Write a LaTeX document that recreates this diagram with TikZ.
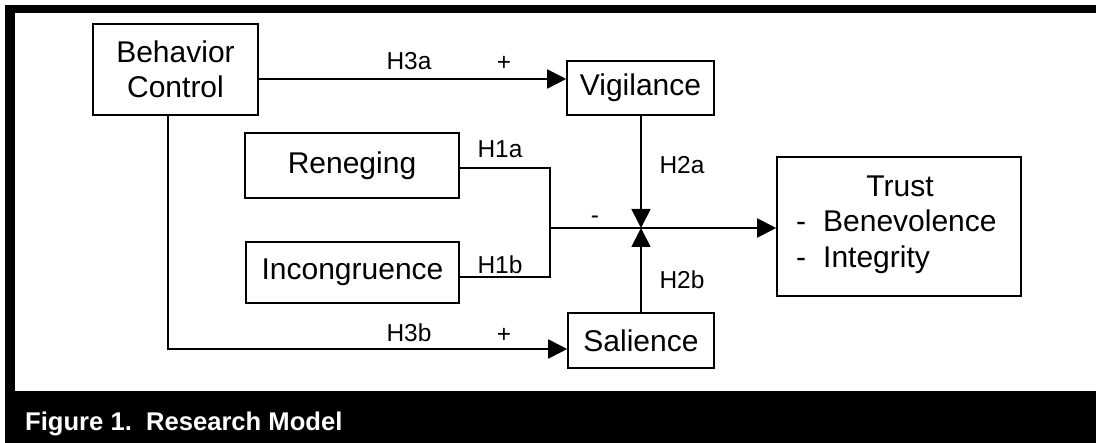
\documentclass[tikz,border=0pt]{standalone}
\usepackage{fontspec}
\setmainfont{Liberation Sans}
\usetikzlibrary{arrows.meta}
\tikzset{
  box/.style={draw, line width=1.6pt, rectangle, inner sep=0pt, font=\fontsize{30}{35}\selectfont, align=center},
  conn/.style={line width=1.8pt},
  arr/.style={conn, -{Triangle[length=19pt, width=19pt]}},
  lbl/.style={font=\fontsize{24.5}{28}\selectfont, inner sep=0pt},
  big/.style={font=\fontsize{30}{35}\selectfont, inner sep=0pt},
  band/.style={fill=black, draw=none}
}
\begin{document}
\begin{tikzpicture}[x=1pt, y=-1pt]
\useasboundingbox (0,0) rectangle (1096,443);
\fill[white] (0,0) rectangle (1096,443);
% frame bands
\fill[band] (5,5) rectangle (1096,13);
\fill[band] (5,5) rectangle (15,391);
\fill[band] (5,391) rectangle (1096,443);
\node[anchor=base west, text=white, font=\fontsize{25.6}{30}\selectfont\bfseries, inner sep=0pt] (cap) at (25,431) {Figure 1.\ \ Research Model};

% boxes
\node[box, minimum width=165pt, minimum height=91pt] (bc) at (175.5,69.5) {Behavior\\Control};
\node[box, minimum width=214pt, minimum height=65pt] (ren) at (352,165.5) {Reneging};
\node[box, minimum width=213pt, minimum height=61pt] (inc) at (352.5,272.5) {Incongruence};
\node[box, minimum width=147pt, minimum height=54pt] (vig) at (640.5,88) {Vigilance};
\node[box, minimum width=146pt, minimum height=55pt] (sal) at (641,340.5) {Salience};
\node[box, minimum width=244pt, minimum height=139pt] (trust) at (899,226.5) {};
\node[big, anchor=base] (tt) at (900,197) {Trust};
\node[big, anchor=base west] (tb) at (796,232) {-\hspace{17pt}Benevolence};
\node[big, anchor=base west] (ti) at (796,268) {-\hspace{17pt}Integrity};

% coordinates
\coordinate (y3a) at (0,79);
\coordinate (y3b) at (0,349);
\coordinate (bcx) at (168,115);
\coordinate (ra) at (550,168);
\coordinate (rb) at (550,277);
\coordinate (rm) at (550,228);
\coordinate (j) at (641,228);

% connectors
\draw[arr] (bc.east |- y3a) -- (vig.west |- y3a);
\draw[arr] (bcx) -- (bcx |- y3b) -- (sal.west |- y3b);
\draw[conn] (ren.east |- ra) -- (ra) -- (rb) -- (inc.east |- rb);
\draw[conn] (rm) -- (j);
\draw[arr] (j) -- (trust.west |- j);
\draw[arr] (vig.south -| j) -- (j);
\draw[arr] (sal.north -| j) -- (j);

% labels
\node[lbl, anchor=base] (l3a) at (409,70) {H3a};
\node[lbl] (p3a) at (504,63) {+};
\node[lbl, anchor=base] (l3b) at (409,342) {H3b};
\node[lbl] (p3b) at (504,335) {+};
\node[lbl, anchor=base] (l1a) at (500,158) {H1a};
\node[lbl, anchor=base] (l1b) at (500,274) {H1b};
\node[lbl, anchor=base] (l2a) at (682,174) {H2a};
\node[lbl, anchor=base] (l2b) at (682,289) {H2b};
\node[lbl] (neg) at (595,220) {-};
\end{tikzpicture}
\end{document}
